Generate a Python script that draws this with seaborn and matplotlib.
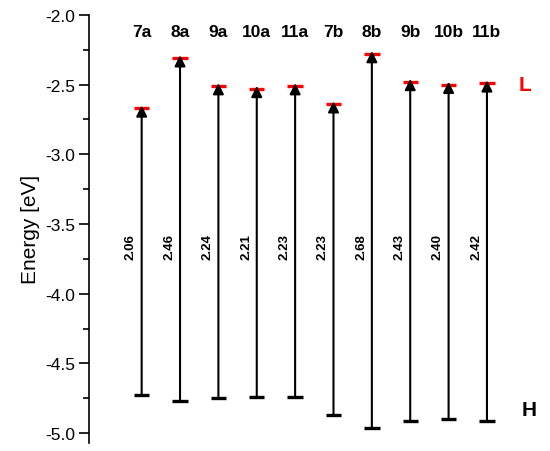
import matplotlib
matplotlib.use('Agg')
import matplotlib.pyplot as plt
import seaborn as sns
from matplotlib.ticker import MultipleLocator

# 데이터
compounds = ['7a', '8a', '9a', '10a', '11a', '7b', '8b', '9b', '10b', '11b']
lumo = [-2.67, -2.31, -2.51, -2.53, -2.51, -2.64, -2.28, -2.48, -2.50, -2.49]
homo = [-4.73, -4.77, -4.75, -4.74, -4.74, -4.87, -4.96, -4.91, -4.90, -4.91]
gaps = ['2.06', '2.46', '2.24', '2.21', '2.23', '2.23', '2.68', '2.43', '2.40', '2.42']

sns.set_style('ticks', {'text.color': 'black', 'axes.labelcolor': 'black',
                        'ytick.color': 'black', 'axes.edgecolor': 'black'})
plt.rcParams['font.family'] = ['Liberation Sans', 'DejaVu Sans']

fig = plt.figure(figsize=(5.5, 4.52), dpi=100)
ax = fig.add_axes([0.162, 0.018, 0.828, 0.947])

xs = list(range(len(compounds)))
half = 0.2

# 에너지 준위
ax.hlines(lumo, [x - half for x in xs], [x + half for x in xs], color='red', lw=2.4)
ax.hlines(homo, [x - half for x in xs], [x + half for x in xs], color='black', lw=2.4)

# 화살표 + 라벨 (화살표 끝이 LUMO 막대에 닿도록 살짝 올림)
for x, name, lo, hi, g in zip(xs, compounds, lumo, homo, gaps):
    ax.annotate('', xy=(x, lo + 0.02), xytext=(x, hi),
                arrowprops=dict(arrowstyle='-|>', color='black', lw=1.5,
                                mutation_scale=16, shrinkA=0, shrinkB=0))
    ax.text(x, -2.12, name, ha='center', va='center', fontsize=12.5, fontweight='bold')
    ax.text(x - 0.28, -3.66, g, ha='center', va='center', rotation=90,
            fontsize=9.5, fontweight='bold')

ax.text(10.0, -2.5, 'L', color='red', ha='center', va='center', fontsize=15, fontweight='bold')
ax.text(10.1, -4.83, 'H', color='black', ha='center', va='center', fontsize=15, fontweight='bold')

ax.set_xlim(-1.37, 10.5)
ax.set_ylim(-5.07, -2.0)
ax.yaxis.set_major_locator(MultipleLocator(0.5))
ax.yaxis.set_minor_locator(MultipleLocator(0.25))
ax.yaxis.set_major_formatter(matplotlib.ticker.FormatStrFormatter('%.1f'))
ax.tick_params(axis='y', which='major', length=7, width=1.2, labelsize=12.5, direction='out', pad=3)
ax.tick_params(axis='y', which='minor', length=4, width=1.2, direction='out')
ax.set_xticks([])
ax.set_ylabel('Energy [eV]', fontsize=15, labelpad=4)

for s in ['top', 'right', 'bottom']:
    ax.spines[s].set_visible(False)
ax.spines['left'].set_linewidth(1.2)

plt.savefig('out.png', dpi=100)
